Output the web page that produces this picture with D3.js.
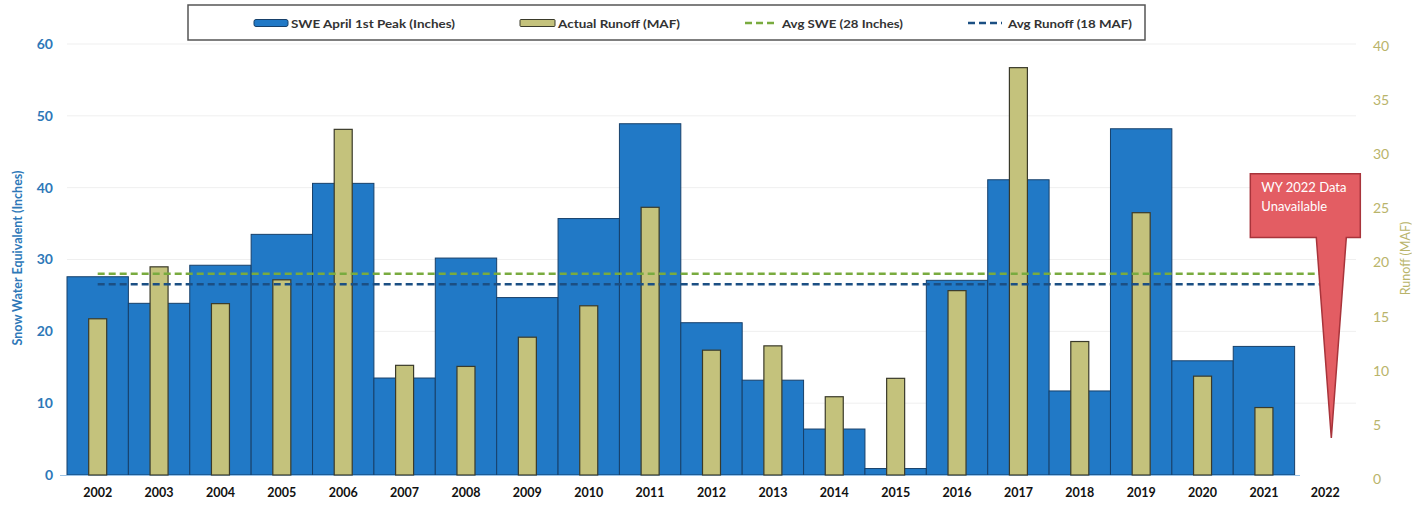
<!DOCTYPE html>
<html>
<head>
<meta charset="utf-8">
<script src="https://cdn.jsdelivr.net/npm/d3@7/dist/d3.min.js"></script>
<style>
  html, body { margin: 0; padding: 0; background: #ffffff; }
  svg { display: block; }
  text { font-family: Lato, "Open Sans", sans-serif; }
</style>
</head>
<body>
<svg id="chart" width="1412" height="509"></svg>
<script>
// ---- Data ----
const years = ["2002","2003","2004","2005","2006","2007","2008","2009","2010","2011","2012","2013","2014","2015","2016","2017","2018","2019","2020","2021","2022"];
const sweValues = [27.6, 23.9, 29.2, 33.5, 40.6, 13.5, 30.2, 24.7, 35.7, 48.9, 21.2, 13.2, 6.4, 0.9, 27.1, 41.1, 11.7, 48.2, 15.9, 17.9, null];
const runoffValues = [14.8, 19.6, 16.2, 18.4, 32.3, 10.5, 10.4, 13.1, 16.0, 25.1, 11.9, 12.3, 7.6, 9.3, 17.4, 38.0, 12.7, 24.6, 9.5, 6.6, null];
const avgSWE = 28;
const avgRunoff = 18;
const leftTicks = [0, 10, 20, 30, 40, 50, 60];
const rightTicks = [0, 5, 10, 15, 20, 25, 30, 35, 40];
const legendLabels = ["SWE April 1st Peak (Inches)", "Actual Runoff (MAF)", "Avg SWE (28 Inches)", "Avg Runoff (18 MAF)"];
const calloutLines = ["WY 2022 Data", "Unavailable"];

// ---- Colors ----
const cSWE = "#2179c6", cSWEStroke = "#17406a";
const cRun = "#c4c27c", cRunStroke = "#3a3a2a";
const cAvgSWE = "#79ab3f", cAvgRun = "#1b4f83";
const cLeftText = "#2e78b8", cRightText = "#b9b46a";

const svg = d3.select("#chart");

// ---- Scales ----
const x = d3.scaleBand().domain(years).range([67, 1356]).padding(0);
const yL = d3.scaleLinear().domain([0, 60]).range([475, 44]);
const yR = d3.scaleLinear().domain([0, 40]).range([479, 46]);
const bw = x.bandwidth();
const cx = d => x(d) + bw / 2;

// ---- Gridlines ----
svg.append("g").selectAll("line").data(leftTicks.filter(t => t > 0)).join("line")
  .attr("x1", 67).attr("x2", 1356)
  .attr("y1", d => yL(d)).attr("y2", d => yL(d))
  .attr("stroke", "#efefef").attr("stroke-width", 1);

// ---- Left axis ----
const gL = svg.append("g").attr("transform", "translate(53,0)")
  .call(d3.axisLeft(yL).tickValues(leftTicks).tickSize(0).tickPadding(0));
gL.select(".domain").remove();
gL.selectAll("text").attr("fill", cLeftText).style("font-size", "14px").style("font-weight", "700")
  .style("font-family", "Lato, sans-serif");

// ---- Right axis ----
const gR = svg.append("g").attr("transform", "translate(1373,0)")
  .call(d3.axisRight(yR).tickValues(rightTicks).tickSize(0).tickPadding(0));
gR.select(".domain").remove();
gR.selectAll("text").attr("fill", cRightText).style("font-size", "14px").style("font-weight", "400")
  .style("font-family", "Lato, sans-serif");

// ---- X axis ----
const gX = svg.append("g").attr("transform", "translate(0,488)")
  .call(d3.axisBottom(x).tickSize(0).tickPadding(0));
gX.select(".domain").remove();
gX.selectAll("text").attr("fill", "#111").style("font-size", "12.5px").style("font-weight", "700")
  .style("font-family", "Lato, sans-serif");

// ---- Axis titles ----
svg.append("text")
  .attr("transform", `translate(22,${(153 + 363) / 2}) rotate(-90)`)
  .attr("text-anchor", "middle")
  .attr("fill", cLeftText).style("font-size", "12.5px").style("font-weight", "700")
  .text("Snow Water Equivalent (Inches)");
svg.append("text")
  .attr("transform", `translate(1410,${(220 + 297) / 2}) rotate(-90)`)
  .attr("text-anchor", "middle")
  .attr("fill", cRightText).style("font-size", "12.5px")
  .text("Runoff (MAF)");

// ---- SWE bars ----
const sweData = years.map((y, i) => ({ year: y, v: sweValues[i] })).filter(d => d.v != null);
svg.append("g").selectAll("rect").data(sweData).join("rect")
  .attr("x", d => x(d.year)).attr("width", bw)
  .attr("y", d => yL(d.v)).attr("height", d => yL(0) - yL(d.v))
  .attr("fill", cSWE).attr("stroke", cSWEStroke).attr("stroke-width", 1);

// baseline
svg.append("line").attr("x1", 60).attr("x2", 1300).attr("y1", yL(0) + 0.5).attr("y2", yL(0) + 0.5)
  .attr("stroke", "#9cc3e6").attr("stroke-width", 1);

// ---- Runoff bars ----
const runW = 18;
const runData = years.map((y, i) => ({ year: y, v: runoffValues[i] })).filter(d => d.v != null);
svg.append("g").selectAll("rect").data(runData).join("rect")
  .attr("x", d => cx(d.year) - runW / 2).attr("width", runW)
  .attr("y", d => yR(d.v)).attr("height", d => yL(0) - yR(d.v))
  .attr("fill", cRun).attr("stroke", cRunStroke).attr("stroke-width", 1.2);

// ---- Average lines ----
svg.append("line")
  .attr("x1", cx(years[0])).attr("x2", cx(years[years.length - 1]))
  .attr("y1", yL(avgSWE)).attr("y2", yL(avgSWE))
  .attr("stroke", cAvgSWE).attr("stroke-width", 2.5).attr("stroke-dasharray", "7,4");
svg.append("line")
  .attr("x1", cx(years[0])).attr("x2", cx(years[years.length - 1]))
  .attr("y1", yR(avgRunoff)).attr("y2", yR(avgRunoff))
  .attr("stroke", cAvgRun).attr("stroke-width", 2.5).attr("stroke-dasharray", "7,4");

// ---- Callout (anchored to the 2022 category) ----
const c22 = cx("2022");
const boxL = c22 - 75, boxR = c22 + 35, boxT = yR(28.2), boxB = yR(22.3);
const tipX = c22 + 6, tipY = yR(3.8);
const callPath = d3.path();
callPath.moveTo(boxL, boxT);
callPath.lineTo(boxR, boxT);
callPath.lineTo(boxR, boxB);
callPath.lineTo(c22 + 21, boxB);
callPath.lineTo(tipX, tipY);
callPath.lineTo(c22 - 9, boxB);
callPath.lineTo(boxL, boxB);
callPath.closePath();
svg.append("path").attr("d", callPath.toString())
  .attr("fill", "#e35d63").attr("stroke", "#a8343b").attr("stroke-width", 1.5);
svg.append("g").selectAll("text").data(calloutLines).join("text")
  .attr("x", boxL + 11).attr("y", (d, i) => boxT + 18 + i * 19)
  .attr("fill", "#ffffff").style("font-size", "13px")
  .text(d => d);

// ---- Legend ----
svg.append("rect").attr("x", 188).attr("y", 5).attr("width", 957).attr("height", 35)
  .attr("fill", "#ffffff").attr("stroke", "#555").attr("stroke-width", 1.5);
const lg = svg.append("g");
lg.append("rect").attr("x", 254).attr("y", 19.5).attr("width", 34).attr("height", 7).attr("rx", 2)
  .attr("fill", cSWE).attr("stroke", cSWEStroke).attr("stroke-width", 1);
lg.append("rect").attr("x", 520).attr("y", 19.5).attr("width", 35).attr("height", 7).attr("rx", 1)
  .attr("fill", cRun).attr("stroke", cRunStroke).attr("stroke-width", 1);
lg.append("line").attr("x1", 745).attr("x2", 777).attr("y1", 23).attr("y2", 23)
  .attr("stroke", cAvgSWE).attr("stroke-width", 2.5).attr("stroke-dasharray", "7,4");
lg.append("line").attr("x1", 968).attr("x2", 1002).attr("y1", 23).attr("y2", 23)
  .attr("stroke", cAvgRun).attr("stroke-width", 2.5).attr("stroke-dasharray", "7,4");
const legX = [291, 558, 782, 1008];
const legW = [164, 122, 121, 124];
lg.selectAll("text.leg").data(legendLabels).join("text").attr("class", "leg")
  .attr("x", (d, i) => legX[i]).attr("y", 27.5)
  .attr("textLength", (d, i) => legW[i]).attr("lengthAdjust", "spacingAndGlyphs")
  .attr("fill", "#333").style("font-size", "12px").style("font-weight", "700")
  .text(d => d);
</script>
</body>
</html>
